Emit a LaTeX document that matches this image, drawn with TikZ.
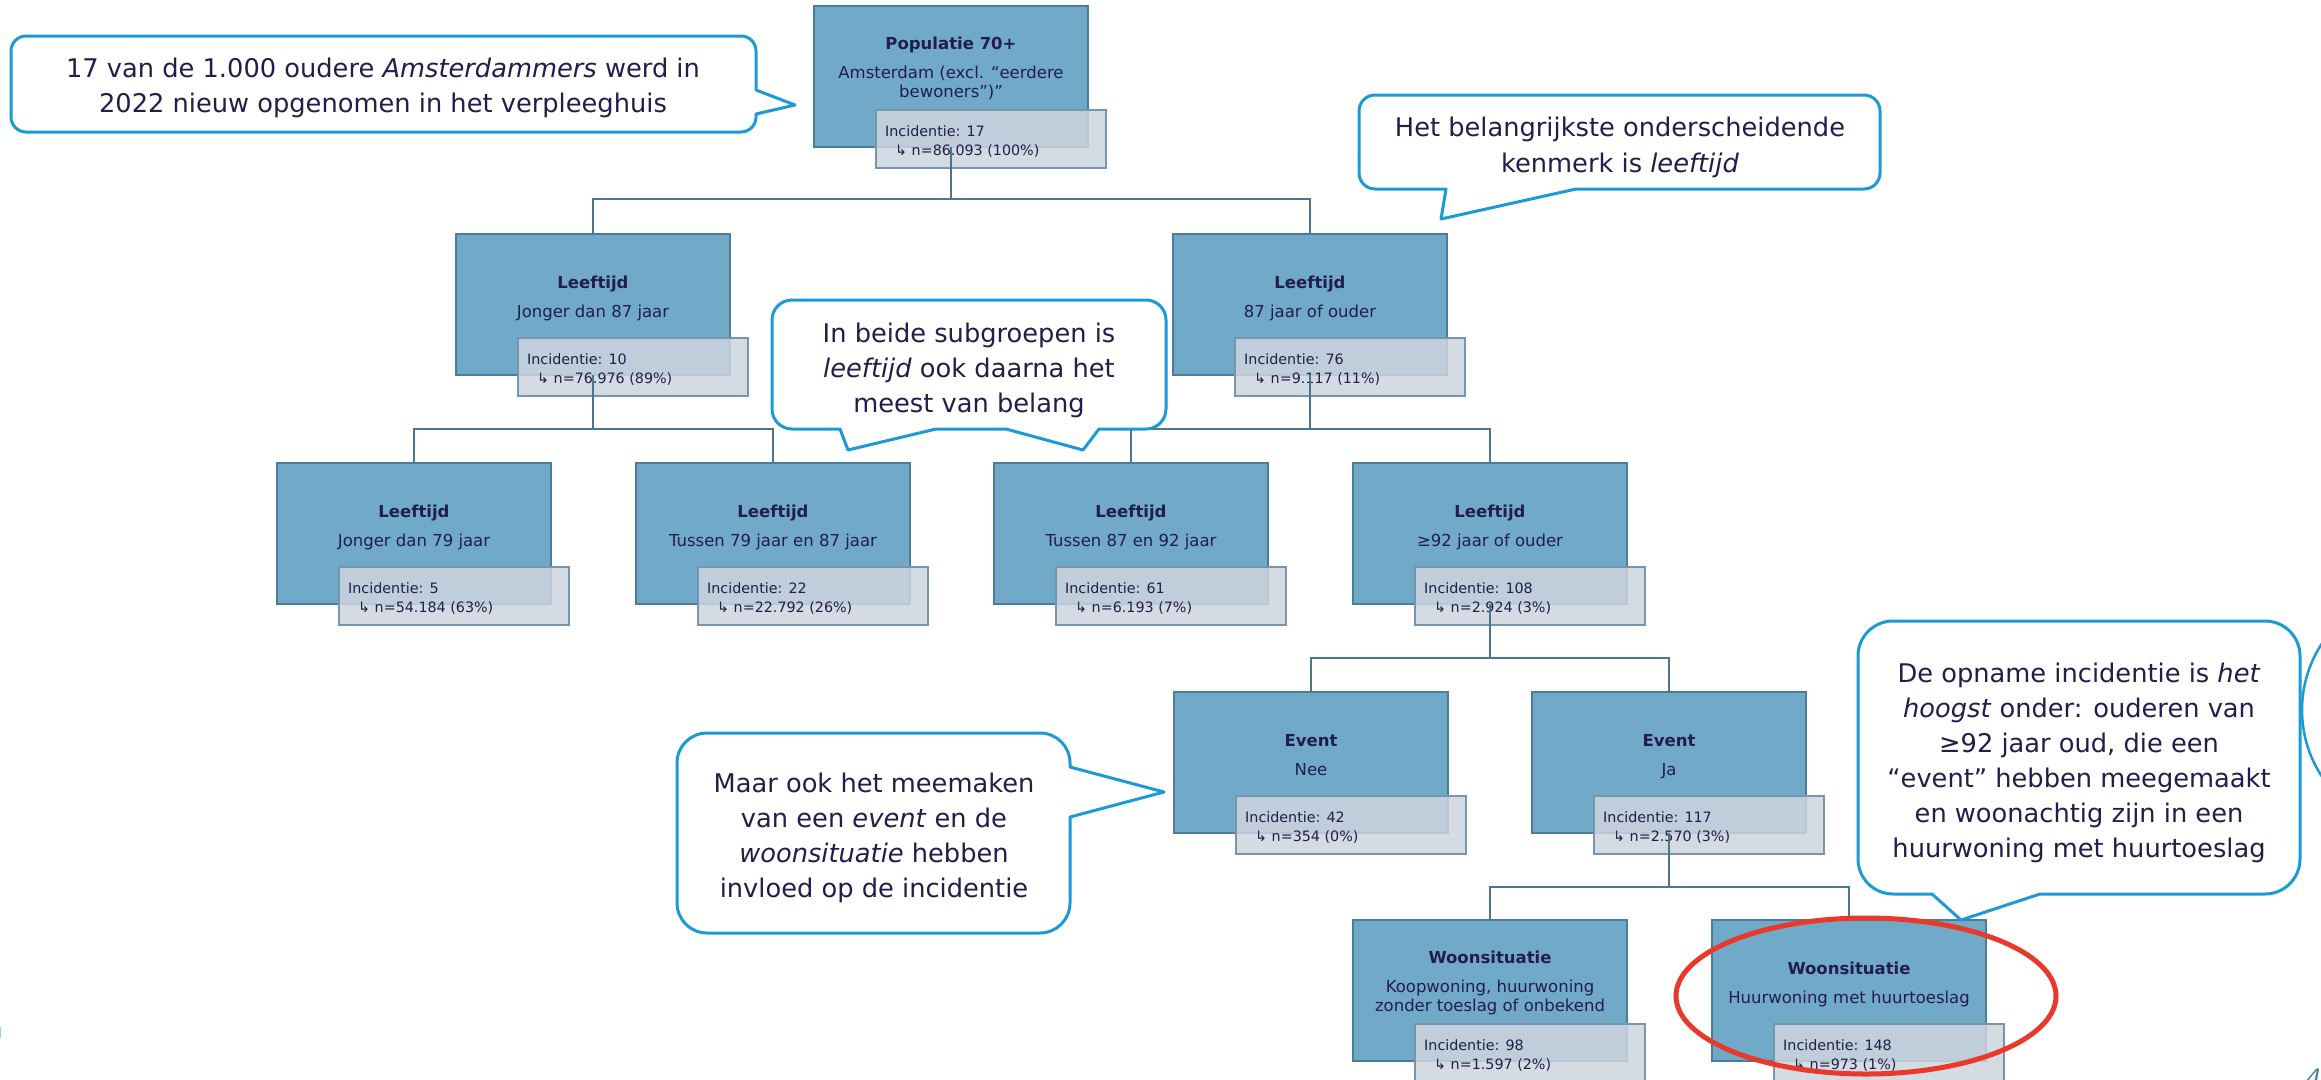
\documentclass[tikz,border=0pt]{standalone}
\usepackage{fontspec}
\setmainfont{DejaVu Sans}
\usetikzlibrary{calc}
\definecolor{boxfill}{HTML}{71A9C9}
\definecolor{boxborder}{HTML}{4B7C9C}
\definecolor{incfill}{HTML}{CDD5DE}
\definecolor{incborder}{HTML}{7696B0}
\definecolor{connline}{HTML}{4E7590}
\definecolor{textcol}{HTML}{231D4B}
\definecolor{callblue}{HTML}{1B9AD6}
\definecolor{redring}{HTML}{E8392B}
\definecolor{pagecol}{HTML}{4F7EA3}
\definecolor{edgeblue}{HTML}{8FD3F1}
\tikzset{
  treebox/.style={draw=boxborder, fill=boxfill, line width=1.8bp, minimum width=274bp, minimum height=141bp, inner sep=0pt, outer sep=0pt, anchor=north west},
  incbox/.style={draw=incborder, fill=incfill, fill opacity=0.85, line width=1.5bp, minimum width=230bp, minimum height=58bp, inner sep=0pt, outer sep=0pt, anchor=north west},
  titletxt/.style={text=textcol, font=\bfseries\fontsize{16.5bp}{20bp}\selectfont, inner sep=0pt, anchor=base},
  subtxt/.style={text=textcol, font=\fontsize{16.5bp}{20bp}\selectfont, inner sep=0pt, anchor=base},
  inctxt/.style={text=textcol, font=\fontsize{14.3bp}{18bp}\selectfont, inner sep=0pt, anchor=base west},
  calltxt/.style={text=textcol, font=\fontsize{25.7bp}{35bp}\selectfont, inner sep=0pt, anchor=base},
  callout/.style={draw=callblue, fill=white, line width=3bp, line join=round},
  conn/.style={draw=connline, line width=1.6bp},
}
\newcommand{\boxtwo}[7]{%
  \node[treebox] (#1) at (#2,#3) {};
  \node[incbox] (#1i) at ($(#1.north west)+(62,104)$) {};
  \node[titletxt] (#1t) at ($(#1.north)+(0,54)$) {#4};
  \node[subtxt] (#1s) at ($(#1.north)+(0,83)$) {#5};
  \node[inctxt] (#1a) at ($(#1i.north west)+(9,26)$) {Incidentie: #6};
  \node[inctxt] (#1b) at ($(#1i.north west)+(19,45)$) {↳ n=#7};
}
\newcommand{\boxthree}[8]{%
  \node[treebox] (#1) at (#2,#3) {};
  \node[incbox] (#1i) at ($(#1.north west)+(62,104)$) {};
  \node[titletxt] (#1t) at ($(#1.north)+(0,43)$) {#4};
  \node[subtxt] (#1s) at ($(#1.north)+(0,72)$) {#5};
  \node[subtxt] (#1u) at ($(#1.north)+(0,91)$) {#6};
  \node[inctxt] (#1a) at ($(#1i.north west)+(9,26)$) {Incidentie: #7};
  \node[inctxt] (#1b) at ($(#1i.north west)+(19,45)$) {↳ n=#8};
}
\begin{document}
\begin{tikzpicture}[x=1bp, y=-1bp]
\useasboundingbox (0,0) rectangle (2321,1079);
\fill[white] (0,0) rectangle (2321,1079);

% tree boxes
\boxthree{P}{814}{6}{Populatie 70+}{Amsterdam (excl. “eerdere}{bewoners”)”}{17}{86.093 (100\%)}
\boxtwo{L}{456}{234}{Leeftijd}{Jonger dan 87 jaar}{10}{76.976 (89\%)}
\boxtwo{R}{1173}{234}{Leeftijd}{87 jaar of ouder}{76}{9.117 (11\%)}
\boxtwo{LL}{277}{463}{Leeftijd}{Jonger dan 79 jaar}{5}{54.184 (63\%)}
\boxtwo{LR}{636}{463}{Leeftijd}{Tussen 79 jaar en 87 jaar}{22}{22.792 (26\%)}
\boxtwo{RL}{994}{463}{Leeftijd}{Tussen 87 en 92 jaar}{61}{6.193 (7\%)}
\boxtwo{RR}{1353}{463}{Leeftijd}{≥92 jaar of ouder}{108}{2.924 (3\%)}
\boxtwo{EN}{1174}{692}{Event}{Nee}{42}{354 (0\%)}
\boxtwo{EJ}{1532}{692}{Event}{Ja}{117}{2.570 (3\%)}
\boxthree{WA}{1353}{920}{Woonsituatie}{Koopwoning, huurwoning}{zonder toeslag of onbekend}{98}{1.597 (2\%)}
\boxtwo{WB}{1712}{920}{Woonsituatie}{Huurwoning met huurtoeslag}{148}{973 (1\%)}

% connectors
\draw[conn] (P.south) -- ++(0,52) -| (L.north);
\draw[conn] (P.south) -- ++(0,52) -| (R.north);
\draw[conn] (L.south) -- ++(0,54) -| (LL.north);
\draw[conn] (L.south) -- ++(0,54) -| (LR.north);
\draw[conn] (R.south) -- ++(0,54) -| (RL.north);
\draw[conn] (R.south) -- ++(0,54) -| (RR.north);
\draw[conn] (RR.south) -- ++(0,54) -| (EN.north);
\draw[conn] (RR.south) -- ++(0,54) -| (EJ.north);
\draw[conn] (EJ.south) -- ++(0,54) -| (WA.north);
\draw[conn] (EJ.south) -- ++(0,54) -| (WB.north);

% callout 1
\draw[callout] (26,36) -- (741,36) arc[start angle=270,end angle=360,radius=15] -- (756,90) -- (795,105) -- (756,114) -- (756,117) arc[start angle=0,end angle=90,radius=15] -- (26,132) arc[start angle=90,end angle=180,radius=15] -- (11,51) arc[start angle=180,end angle=270,radius=15] -- cycle;
\node[calltxt] (c1a) at (383,77) {17 van de 1.000 oudere \textit{Amsterdammers} werd in};
\node[calltxt] (c1b) at (383,112) {2022 nieuw opgenomen in het verpleeghuis};

% callout 2
\draw[callout] (1375,95) -- (1864,95) arc[start angle=270,end angle=360,radius=16] -- (1880,173) arc[start angle=0,end angle=90,radius=16] -- (1576,189) -- (1441,219) -- (1446,189) -- (1375,189) arc[start angle=90,end angle=180,radius=16] -- (1359,111) arc[start angle=180,end angle=270,radius=16] -- cycle;
\node[calltxt] (c2a) at (1620,136) {Het belangrijkste onderscheidende};
\node[calltxt] (c2b) at (1620,172) {kenmerk is \textit{leeftijd}};

% callout 3
\draw[callout] (792,300) -- (1146,300) arc[start angle=270,end angle=360,radius=20] -- (1166,409) arc[start angle=0,end angle=90,radius=20] -- (1099,429) -- (1083,450) -- (1006,429) -- (936,429) -- (848,450) -- (840,429) -- (792,429) arc[start angle=90,end angle=180,radius=20] -- (772,320) arc[start angle=180,end angle=270,radius=20] -- cycle;
\node[calltxt] (c3a) at (969,342) {In beide subgroepen is};
\node[calltxt] (c3b) at (969,377) {\textit{leeftijd} ook daarna het};
\node[calltxt] (c3c) at (969,412) {meest van belang};

% callout 4
\draw[callout] (707,733) -- (1040,733) arc[start angle=270,end angle=360,radius=30] -- (1070,767) -- (1164,792) -- (1070,817) -- (1070,903) arc[start angle=0,end angle=90,radius=30] -- (707,933) arc[start angle=90,end angle=180,radius=30] -- (677,763) arc[start angle=180,end angle=270,radius=30] -- cycle;
\node[calltxt] (c4a) at (874,792) {Maar ook het meemaken};
\node[calltxt] (c4b) at (874,827) {van een \textit{event} en de};
\node[calltxt] (c4c) at (874,862) {\textit{woonsituatie} hebben};
\node[calltxt] (c4d) at (874,897) {invloed op de incidentie};

% callout 5
\draw[callout] (1893,621) -- (2265,621) arc[start angle=270,end angle=360,radius=35] -- (2300,859) arc[start angle=0,end angle=90,radius=35] -- (2040,894) -- (1961,920) -- (1932,894) -- (1893,894) arc[start angle=90,end angle=180,radius=35] -- (1858,656) arc[start angle=180,end angle=270,radius=35] -- cycle;
\node[calltxt] (c5a) at (2079,682) {De opname incidentie is \textit{het}};
\node[calltxt] (c5b) at (2079,717) {\textit{hoogst} onder: ouderen van};
\node[calltxt] (c5c) at (2079,752) {≥92 jaar oud, die een};
\node[calltxt] (c5d) at (2079,787) {“event” hebben meegemaakt};
\node[calltxt] (c5e) at (2079,822) {en woonachtig zijn in een};
\node[calltxt] (c5f) at (2079,857) {huurwoning met huurtoeslag};

% partial circle at right edge
\draw[callblue, line width=2.5bp] (2423,710) circle[radius=121];

% red highlight ellipse
\draw[redring, line width=5bp] (1866,996) ellipse[x radius=190, y radius=78];

% edge mark and page number
\fill[edgeblue] (0,1027) rectangle (1.5,1038);
\node[text=pagecol, font=\itshape\fontsize{24bp}{28bp}\selectfont, inner sep=0pt, anchor=base west] (pgnum) at (2306,1086) {42};
\end{tikzpicture}
\end{document}
